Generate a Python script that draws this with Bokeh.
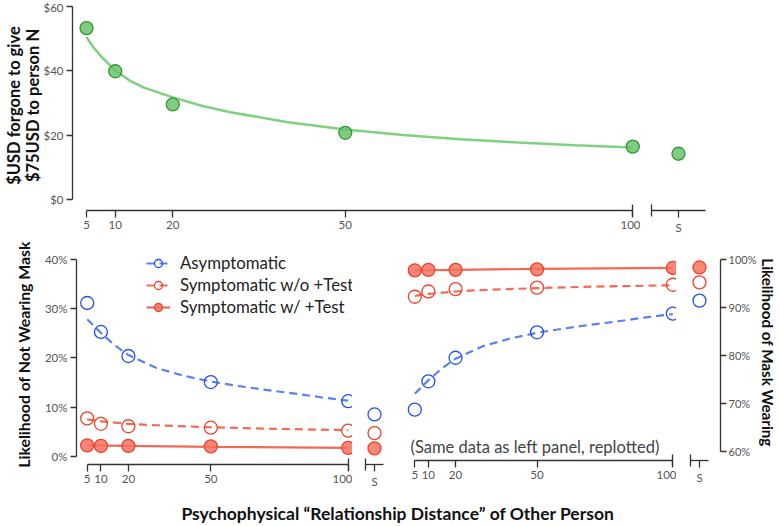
from bokeh.plotting import figure
from bokeh.layouts import column, row
from bokeh.models import (Range1d, FixedTicker, PrintfTickFormatter, Legend,
                          LegendItem, Label, LinearAxis)
from bokeh.embed import file_html
from bokeh.resources import INLINE
from bokeh.core.properties import value

# ---------------- data ----------------
distances = [5, 10, 20, 50, 100]
usd_forgone = [53.3, 39.9, 29.6, 20.8, 16.5]
usd_forgone_self = 14.3

asym_not = [31.2, 25.3, 20.4, 15.1, 11.2]
asym_not_self = 8.5
symp_no_test_not = [7.7, 6.6, 6.1, 5.8, 5.2]
symp_no_test_not_self = 4.7
symp_test_not = [2.2, 2.1, 2.1, 2.0, 1.7]
symp_test_not_self = 1.6

# fitted curves
usd_fit_x = [5, 6, 7.5, 10, 12.5, 15, 20, 25, 30, 40, 50, 60, 70, 80, 90, 100]
usd_fit_y = [50.5, 47.8, 44.6, 40.1, 37.0, 34.8, 31.8, 29.2, 27.2, 24.1, 21.8, 20.1, 18.8, 17.8, 16.9, 16.2]
asym_fit_x = [5, 7.5, 10, 15, 20, 30, 40, 50, 60, 70, 80, 90, 100]
asym_fit_y = [27.9, 26.5, 25.1, 22.6, 20.6, 18.0, 16.4, 15.2, 14.3, 13.5, 12.8, 12.0, 11.3]
symp_no_fit_x = [5, 10, 20, 30, 50, 70, 100]
symp_no_fit_y = [7.5, 7.1, 6.6, 6.3, 5.9, 5.6, 5.3]
symp_test_fit_x = [5, 20, 50, 100]
symp_test_fit_y = [2.2, 2.1, 1.9, 1.7]

x_ticks = [5, 10, 20, 50, 100]
usd_ticks = [0, 20, 40, 60]
not_ticks = [0, 10, 20, 30, 40]
wear_ticks = [60, 70, 80, 90, 100]

legend_labels = ["Asymptomatic", "Symptomatic w/o +Test", "Symptomatic w/ +Test"]
top_y_title = "$USD forgone to give\n$75USD to person N"
left_y_title = "Likelihood of Not Wearing Mask"
right_y_title = "Likelihood of Mask Wearing"
x_title = "Psychophysical \u201cRelationship Distance\u201d of Other Person"
note_text = "(Same data as left panel, replotted)"
self_label = "S"

# right panel = same data replotted as likelihood of wearing
asym_wear = [100 - v for v in asym_not]
asym_wear_self = 100 - asym_not_self
symp_no_test_wear = [100 - v for v in symp_no_test_not]
symp_no_test_wear_self = 100 - symp_no_test_not_self
symp_test_wear = [100 - v for v in symp_test_not]
symp_test_wear_self = 100 - symp_test_not_self
asym_fit_wear = [100 - v for v in asym_fit_y]
symp_no_fit_wear = [100 - v for v in symp_no_fit_y]
symp_test_fit_wear = [100 - v for v in symp_test_fit_y]

# ---------------- style ----------------
FONT = "Lato"
AX = "#333333"
TICK_TXT = "#555555"
GREEN_FILL, GREEN_LINE, GREEN_FIT = "#6cc26c", "#2e9a2e", "#7fd07f"
BLUE, BLUE_FIT = "#2250f0", "#5b80ee"
RED, RED_FILL, RED_FIT = "#f0422c", "#f47262", "#f26a56"
MS = 13


def make_fig(fw, fh, xr, yr, left=0, right=0, top=0, bottom=0):
    p = figure(frame_width=fw, frame_height=fh, x_range=xr, y_range=yr,
               x_axis_type=None, y_axis_type=None,
               output_backend="svg", toolbar_location=None,
               min_border_left=left, min_border_right=right,
               min_border_top=top, min_border_bottom=bottom)
    p.outline_line_color = None
    p.background_fill_color = "white"
    p.border_fill_color = "white"
    return p


def style_axis(ax, ticks, minor=(), bounds=None, tick_out=7):
    ax.ticker = FixedTicker(ticks=list(ticks), minor_ticks=list(minor))
    if bounds is not None:
        ax.bounds = bounds
    ax.axis_line_color = AX
    ax.axis_line_width = 1.3
    ax.major_tick_line_color = AX
    ax.major_tick_line_width = 1.3
    ax.major_tick_in = 0
    ax.major_tick_out = tick_out
    ax.minor_tick_line_color = AX
    ax.minor_tick_line_width = 1.3
    ax.minor_tick_in = 6
    ax.minor_tick_out = 6
    ax.major_label_text_font = FONT
    ax.major_label_text_font_size = "11.5px"
    ax.major_label_text_color = TICK_TXT
    ax.major_label_standoff = 3
    ax.axis_label_text_font = FONT
    ax.axis_label_text_font_style = "bold"
    ax.axis_label_text_color = "#111111"
    ax.axis_label_text_font_size = "15.8px"


# ---------------- top panel ----------------
T_FH = 210
ty = Range1d(-3.32, 61.86)
t_main = make_fig(568, T_FH, Range1d(2.565, 101.34), ty, left=72, bottom=30)
t_self = make_fig(72, T_FH, Range1d(0, 72), ty, right=68, bottom=30)
T_S_CAP, T_S_POS, T_S_END = 11, 38, 65

xa = LinearAxis()
style_axis(xa, x_ticks, minor=[100], bounds=(5, 100))
t_main.add_layout(xa, "below")
ya = LinearAxis(axis_label=top_y_title)
style_axis(ya, usd_ticks, bounds=(0, 60), tick_out=6)
ya.formatter = PrintfTickFormatter(format="$%d")
ya.axis_label_text_font_size = "16.5px"
ya.axis_label_text_line_height = 0.95
ya.axis_label_standoff = -3
t_main.add_layout(ya, "left")
xs = LinearAxis()
style_axis(xs, [T_S_POS], minor=[T_S_CAP], bounds=(T_S_CAP, T_S_END))
xs.major_label_overrides = {T_S_POS: self_label}
t_self.add_layout(xs, "below")

t_main.line(usd_fit_x, usd_fit_y, line_color=GREEN_FIT, line_width=2.5)
t_main.scatter(distances, usd_forgone, size=MS, fill_color=GREEN_FILL, fill_alpha=0.85,
               line_color=GREEN_LINE, line_width=1.3)
t_self.scatter([T_S_POS], [usd_forgone_self], size=MS, fill_color=GREEN_FILL, fill_alpha=0.85,
               line_color=GREEN_LINE, line_width=1.3)

# ---------------- bottom panels ----------------
ly = Range1d(-1.69, 43.11)
ry = Range1d(58.21, 103.18)

bl_main = make_fig(276, 220, Range1d(1.105, 101.57), ly, left=76, top=4, bottom=30)
bl_self = make_fig(35, 220, Range1d(0, 35), ly, right=15, top=4, bottom=30)
br_main = make_fig(274, 216, Range1d(0.471, 101.36), ry, top=4, bottom=34)
br_self = make_fig(44, 216, Range1d(0, 44), ry, right=60, top=4, bottom=34)
BL_S_CAP, BL_S_POS, BL_S_END = 13, 22, 31
BR_S_CAP, BR_S_POS, BR_S_END = 14, 23, 32

for p in (bl_main, br_main):
    ax = LinearAxis()
    style_axis(ax, x_ticks, minor=[100], bounds=(5, 100))
    p.add_layout(ax, "below")
for p, cap, pos, end in ((bl_self, BL_S_CAP, BL_S_POS, BL_S_END),
                         (br_self, BR_S_CAP, BR_S_POS, BR_S_END)):
    ax = LinearAxis()
    style_axis(ax, [pos], minor=[cap], bounds=(cap, end))
    ax.major_label_overrides = {pos: self_label}
    p.add_layout(ax, "below")

yl = LinearAxis(axis_label=left_y_title)
style_axis(yl, not_ticks, bounds=(0, 40), tick_out=6)
yl.formatter = PrintfTickFormatter(format="%d%%")
yl.axis_label_standoff = 9
bl_main.add_layout(yl, "left")

yr = LinearAxis(axis_label=right_y_title)
style_axis(yr, wear_ticks, bounds=(60, 100), tick_out=6)
yr.formatter = PrintfTickFormatter(format="%d%%")
yr.major_label_text_font_size = "11px"
yr.major_label_standoff = 2
yr.axis_label_standoff = 0
yr.axis_label_text_font_size = "15.2px"
br_self.add_layout(yr, "right")


def draw_panel(pm, ps, spos, asym, asym_s, sno, sno_s, stest, stest_s, afit, snofit, stestfit):
    r_al = pm.line(asym_fit_x, afit, line_color=BLUE_FIT, line_width=2.2, line_dash="8 5")
    r_nl = pm.line(symp_no_fit_x, snofit, line_color=RED_FIT, line_width=2.2, line_dash="8 5")
    r_tl = pm.line(symp_test_fit_x, stestfit, line_color=RED_FIT, line_width=2.2)
    r_t = pm.scatter(distances, stest, size=MS, fill_color=RED_FILL, fill_alpha=0.85,
                     line_color=RED, line_width=1.3)
    r_n = pm.scatter(distances, sno, size=MS, fill_color="white", fill_alpha=0.0,
                     line_color=RED, line_width=1.3)
    r_a = pm.scatter(distances, asym, size=MS, fill_color="white", fill_alpha=0.0,
                     line_color=BLUE, line_width=1.3)
    ps.scatter([spos], [stest_s], size=MS, fill_color=RED_FILL, fill_alpha=0.85,
               line_color=RED, line_width=1.3)
    ps.scatter([spos], [sno_s], size=MS, fill_color="white", fill_alpha=0.0,
               line_color=RED, line_width=1.3)
    ps.scatter([spos], [asym_s], size=MS, fill_color="white", fill_alpha=0.0,
               line_color=BLUE, line_width=1.3)
    return (r_al, r_a), (r_nl, r_n), (r_tl, r_t)


leg_rs = draw_panel(bl_main, bl_self, BL_S_POS, asym_not, asym_not_self,
                    symp_no_test_not, symp_no_test_not_self, symp_test_not, symp_test_not_self,
                    asym_fit_y, symp_no_fit_y, symp_test_fit_y)
draw_panel(br_main, br_self, BR_S_POS, asym_wear, asym_wear_self,
           symp_no_test_wear, symp_no_test_wear_self, symp_test_wear, symp_test_wear_self,
           asym_fit_wear, symp_no_fit_wear, symp_test_fit_wear)

legend = Legend(items=[LegendItem(label=lab, renderers=list(rs)) for lab, rs in zip(legend_labels, leg_rs)],
                location=(70, 147))
legend.padding = 0
legend.margin = 0
legend.spacing = 1
legend.glyph_width = 24
legend.glyph_height = 20
legend.label_height = 20
legend.label_standoff = 10
legend.label_text_font = FONT
legend.label_text_font_size = "16.8px"
legend.label_text_color = "#222222"
legend.border_line_alpha = 0
legend.background_fill_alpha = 0
bl_main.add_layout(legend)

note = Label(x=3.42, y=61.0, text=note_text, text_baseline="middle", text_align="left",
             text_font=FONT, text_font_size="16.5px", text_color="#444444")
br_main.add_layout(note)

# ---------------- x title ----------------
xt = make_fig(780, 31, Range1d(0, 780), Range1d(0, 31))
xt.text(x=[397.5], y=[12], text=[x_title], text_align="center", text_baseline="middle",
        text_font=value(FONT), text_font_style="bold", text_font_size="17.5px", text_color="#111111")

layout = column(row(t_main, t_self), row(bl_main, bl_self, br_main, br_self), xt)

open("out.html", "w").write(file_html(layout, INLINE))
